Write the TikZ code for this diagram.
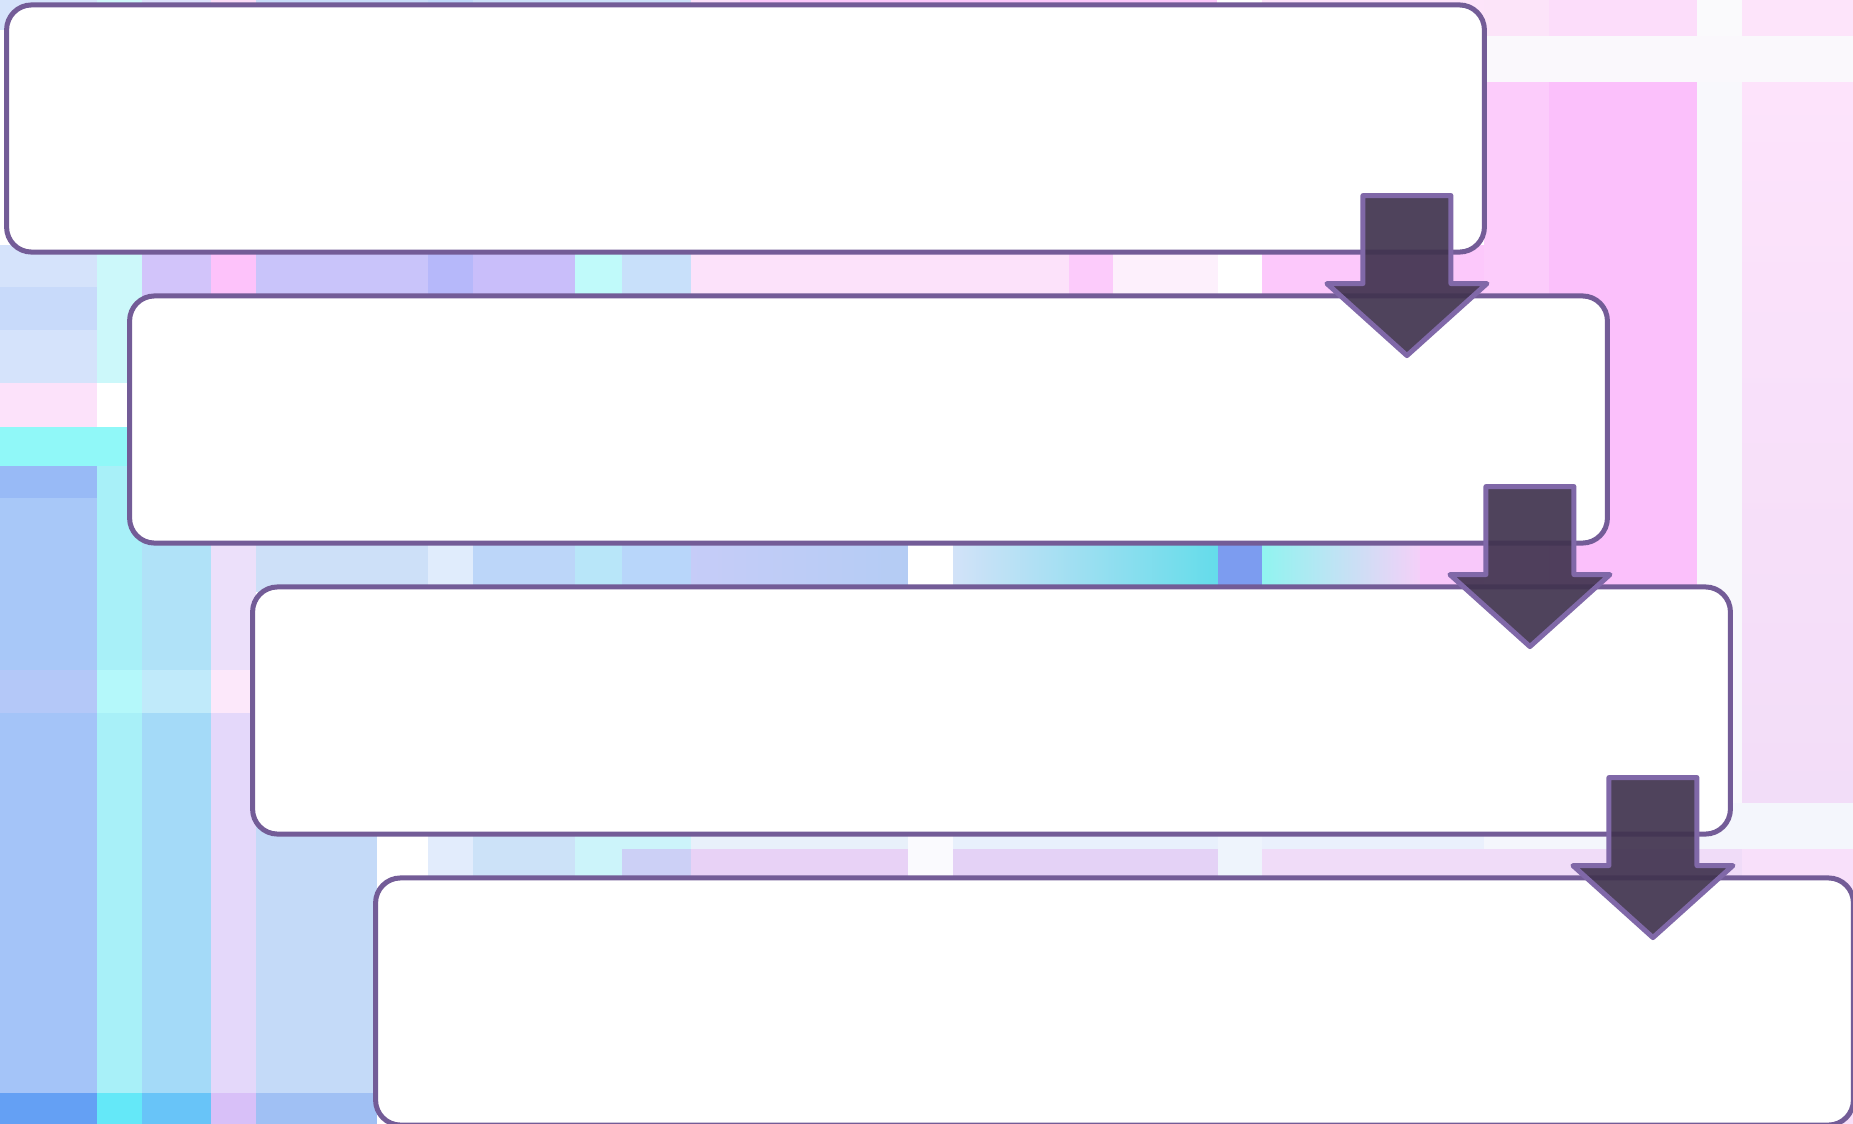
\documentclass[tikz,border=0pt]{standalone}
\usepackage{tikz}

\definecolor{boxline}{HTML}{735C97}
\definecolor{arrowline}{HTML}{8068A8}
\definecolor{arrowbody}{HTML}{41334F}

% one flat patch of the background
\newcommand{\bgcell}[5]{\definecolor{cellcol}{HTML}{#5}\fill[cellcol] (#1,#2) rectangle (#3,#4);}
% one patch that fades from left to right
\newcommand{\bgfade}[6]{\definecolor{fadeA}{HTML}{#5}\definecolor{fadeB}{HTML}{#6}\shade[left color=fadeA,right color=fadeB] (#1,#2) rectangle (#3,#4);}
% one patch that fades from top to bottom
\newcommand{\bgdrop}[6]{\definecolor{fadeA}{HTML}{#5}\definecolor{fadeB}{HTML}{#6}\shade[top color=fadeA,bottom color=fadeB] (#1,#2) rectangle (#3,#4);}

\begin{document}
\begin{tikzpicture}[x=0.01cm,y=-0.01cm]
    \tikzset{stepbox/.style = {shape=rectangle, draw=boxline, fill=white, line width=0.05cm,
        rounded corners=0.25cm, minimum width=14.77cm, minimum height=2.47cm}}
    \tikzset{arrowfill/.style = {draw=arrowline, fill=arrowbody, fill opacity=0.92,
        line width=0.05cm, line join=round}}
    \tikzset{downarrow/.pic = {\filldraw[arrowfill] (-44,-80) -- (44,-80) -- (44,8) -- (80,8)
        -- (0,80) -- (-80,8) -- (-44,8) -- cycle;}}
    \useasboundingbox (0,0) rectangle (1853,1124);
    \clip (0,0) rectangle (1853,1124);
    % background: top strip
    \bgcell{0}{0}{97}{30}{D6E4FB}
    \bgcell{97}{0}{142}{30}{D0F8FA}
    \bgcell{142}{0}{211}{30}{DDE2FB}
    \bgcell{211}{0}{256}{30}{FBDDF7}
    \bgcell{256}{0}{428}{30}{C8DCF8}
    \bgcell{428}{0}{473}{30}{BFD8F9}
    \bgcell{473}{0}{691}{30}{CCE0F8}
    \bgcell{691}{0}{740}{30}{FCE2FA}
    \bgcell{740}{0}{1217}{30}{FCC8FA}
    \bgcell{1217}{0}{1262}{30}{FFFFFF}
    \bgcell{1262}{0}{1484}{30}{FDE4FA}
    % background: right side
    \bgcell{1484}{0}{1549}{36}{FCE4F9}
    \bgcell{1549}{0}{1697}{36}{FCDDFA}
    \bgcell{1697}{0}{1742}{36}{FAFAFC}
    \bgcell{1742}{0}{1853}{36}{FDE4FA}
    \bgcell{1484}{36}{1853}{82}{FAF8FC}
    \bgcell{1484}{82}{1549}{803}{FCCCFB}
    \bgcell{1549}{82}{1697}{803}{FBC0FB}
    \bgcell{1697}{82}{1742}{803}{F8F8FC}
    \bgdrop{1742}{82}{1853}{803}{FDE3FB}{F2DDF8}
    \bgcell{1484}{803}{1853}{849}{F4F6FC}
    \bgcell{1484}{849}{1853}{1124}{F8E0FA}
    % background: left side
    \bgcell{0}{245}{97}{287}{D5E3FB}
    \bgcell{0}{287}{97}{330}{C8DAFA}
    \bgcell{0}{330}{97}{383}{D5E3FB}
    \bgcell{0}{383}{97}{427}{FCE2FA}
    \bgcell{0}{427}{142}{466}{90F8F8}
    \bgcell{0}{466}{97}{498}{98BAF6}
    \bgcell{0}{498}{97}{670}{A8C8F8}
    \bgcell{0}{670}{97}{713}{B4C8F8}
    \bgcell{0}{713}{97}{1093}{A4C4F8}
    \bgcell{0}{1093}{97}{1124}{64A0F4}
    \bgcell{97}{245}{142}{383}{CCF8FA}
    \bgcell{97}{383}{142}{427}{FFFFFF}
    \bgcell{97}{466}{142}{670}{A8F0F8}
    \bgcell{97}{670}{142}{713}{B4F8FA}
    \bgcell{97}{713}{142}{1093}{A8F0F8}
    \bgcell{97}{1093}{142}{1124}{64E8F8}
    \bgcell{142}{535}{211}{670}{B0E2F8}
    \bgcell{142}{670}{211}{713}{C0EAFA}
    \bgcell{142}{713}{211}{1093}{A4DAF8}
    \bgcell{142}{1093}{211}{1124}{68C4F8}
    \bgcell{211}{535}{256}{670}{ECE0FA}
    \bgcell{211}{670}{256}{713}{FCE8FA}
    \bgcell{211}{713}{256}{1093}{E4D8FA}
    \bgcell{211}{1093}{256}{1124}{D8C0F8}
    \bgcell{256}{826}{377}{1093}{C4DAF8}
    \bgcell{256}{1093}{377}{1124}{A0C0F4}
    % background: first gap
    \bgcell{142}{245}{211}{300}{D2C4FA}
    \bgcell{211}{245}{256}{300}{FDC2FA}
    \bgcell{256}{245}{428}{300}{C9C4FA}
    \bgcell{428}{245}{473}{300}{B6B8FA}
    \bgcell{473}{245}{575}{300}{C9BEFA}
    \bgcell{575}{245}{622}{300}{C0FAFA}
    \bgcell{622}{245}{691}{300}{C8E0FA}
    \bgcell{691}{245}{1069}{300}{FCE2FA}
    \bgcell{1069}{245}{1113}{300}{FCCBFB}
    \bgcell{1113}{245}{1218}{300}{FDF0FC}
    \bgcell{1218}{245}{1262}{300}{FFFFFF}
    \bgcell{1262}{245}{1484}{300}{FCC8FB}
    % background: second gap
    \bgcell{256}{535}{428}{592}{CDE0F8}
    \bgcell{428}{535}{473}{592}{E0ECFC}
    \bgcell{473}{535}{575}{592}{BCD6F9}
    \bgcell{575}{535}{622}{592}{B8E6F9}
    \bgcell{622}{535}{691}{592}{B8D6FA}
    \bgfade{691}{535}{908}{592}{C6CCF8}{B4CCF4}
    \bgcell{908}{535}{953}{592}{FFFFFF}
    \bgfade{953}{535}{1218}{592}{D2E2F8}{64DCEA}
    \bgcell{1218}{535}{1262}{592}{7C9CF0}
    \bgfade{1262}{535}{1420}{592}{90F4F0}{F4D0F8}
    \bgcell{1420}{535}{1484}{592}{F8C8FA}
    % background: third gap
    \bgcell{473}{826}{575}{884}{CCE2F8}
    \bgcell{428}{826}{473}{884}{E2ECFC}
    \bgcell{575}{826}{691}{849}{CCF4FA}
    \bgcell{575}{849}{622}{884}{CCF4FA}
    \bgcell{622}{849}{691}{884}{CCD0F6}
    \bgcell{691}{826}{908}{849}{E8F0FA}
    \bgcell{691}{849}{908}{884}{E8D2F6}
    \bgcell{908}{826}{953}{884}{FAFAFE}
    \bgcell{953}{826}{1218}{849}{E8F0FC}
    \bgcell{953}{849}{1218}{884}{E4D2F6}
    \bgcell{1218}{826}{1262}{884}{EEF4FC}
    \bgcell{1262}{826}{1484}{849}{EAF0FC}
    \bgcell{1262}{849}{1484}{884}{F0DCF8}
    \bgcell{1484}{849}{1742}{884}{F0DCF8}
    % steps
    \foreach \i in {1,...,4}
        \node[stepbox] (s\i) at ({745.5+123*(\i-1)},{128.5+291*(\i-1)}) {};
    % arrows
    \foreach \i in {1,2,3}
        \pic at ([shift={(-80,21)}]s\i.south east) {downarrow};
\end{tikzpicture}
\end{document}
